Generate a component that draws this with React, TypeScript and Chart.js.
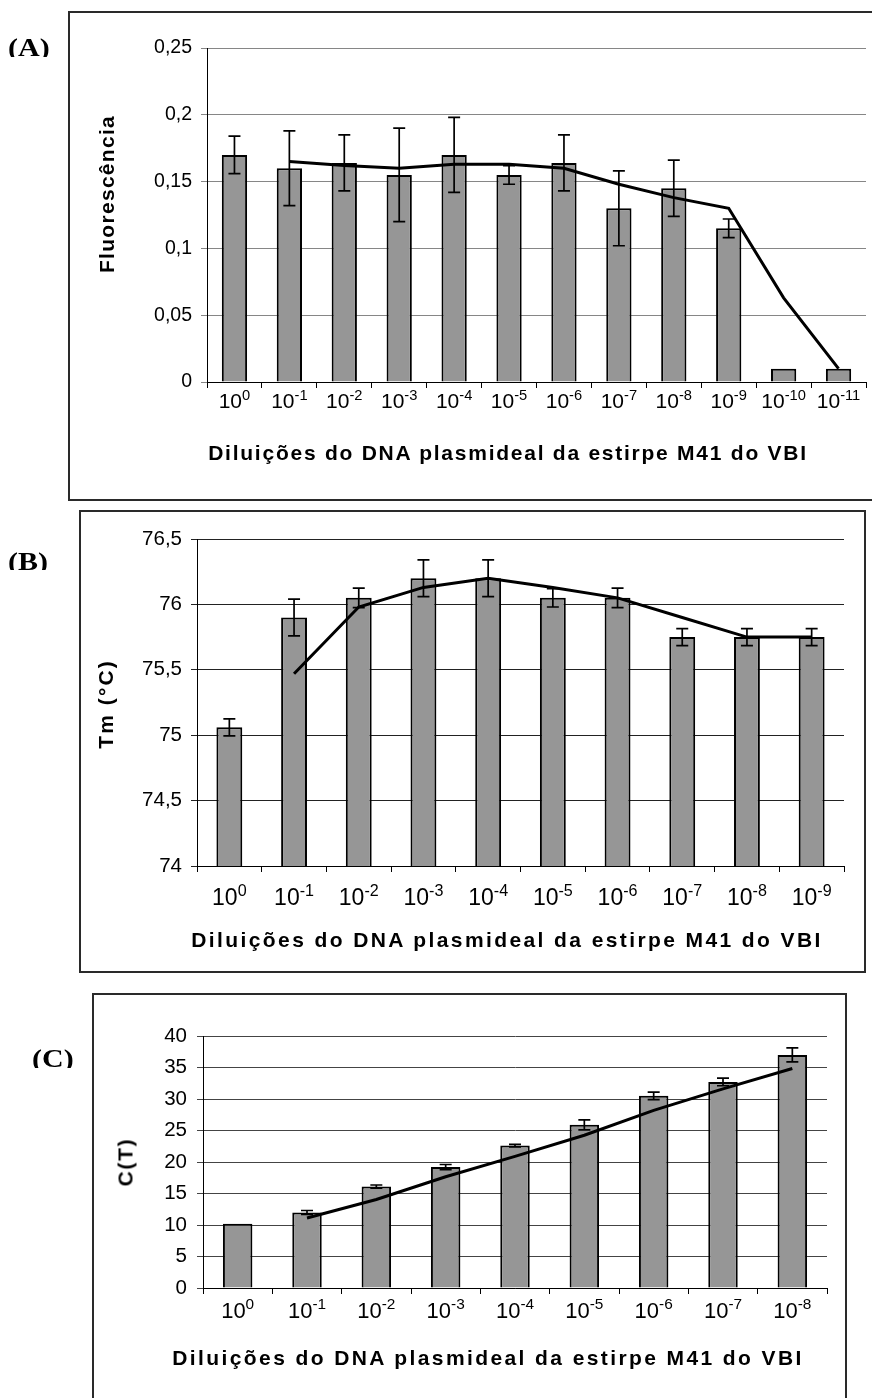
import React, { useEffect, useRef } from 'react';
import { Chart, registerables } from 'chart.js';
Chart.register(...registerables);

// ---------- Data ----------
const expA = ['0', '-1', '-2', '-3', '-4', '-5', '-6', '-7', '-8', '-9', '-10', '-11'];
const valuesA = [0.17, 0.16, 0.164, 0.155, 0.17, 0.155, 0.164, 0.13, 0.145, 0.115, 0.01, 0.01];
const errorsA = [0.014, 0.028, 0.021, 0.035, 0.028, 0.007, 0.021, 0.028, 0.021, 0.007, 0, 0];
const trendA = [null, 0.165, 0.162, 0.16, 0.163, 0.163, 0.16, 0.148, 0.138, 0.13, 0.063, 0.01];
const yTicksA = ['0', '0,05', '0,1', '0,15', '0,2', '0,25'];

const expB = ['0', '-1', '-2', '-3', '-4', '-5', '-6', '-7', '-8', '-9'];
const valuesB = [75.06, 75.9, 76.05, 76.2, 76.2, 76.05, 76.05, 75.75, 75.75, 75.75];
const errorsB = [0.065, 0.14, 0.075, 0.14, 0.14, 0.07, 0.075, 0.065, 0.065, 0.065];
const trendB = [null, 75.47, 75.98, 76.13, 76.2, 76.13, 76.05, 75.9, 75.75, 75.75];
const yTicksB = ['74', '74,5', '75', '75,5', '76', '76,5'];

const expC = ['0', '-1', '-2', '-3', '-4', '-5', '-6', '-7', '-8'];
const valuesC = [10.2, 12.0, 16.1, 19.2, 22.6, 25.9, 30.5, 32.7, 37.0];
const errorsC = [0, 0.3, 0.25, 0.4, 0.2, 0.8, 0.6, 0.6, 1.1];
const trendC = [null, 11.1, 14.05, 17.65, 20.9, 24.25, 28.2, 31.6, 34.85];
const yTicksC = ['0', '5', '10', '15', '20', '25', '30', '35', '40'];

const xTitle = 'Diluições do DNA plasmideal da estirpe M41 do VBI';
const FONT = '"Liberation Sans", Arial, sans-serif';

// ---------- Plugins ----------
const errorBarPlugin = {
  id: 'errorBars',
  afterDatasetDraw(chart: any, args: any, opts: any) {
    if (args.index !== 0) return;
    const errs: number[] = opts.errors || [];
    const meta = chart.getDatasetMeta(0);
    const ys = chart.scales.y;
    const ctx = chart.ctx;
    ctx.save();
    ctx.strokeStyle = '#000';
    ctx.lineWidth = opts.lineWidth || 1.5;
    meta.data.forEach((bar: any, i: number) => {
      const e = errs[i];
      if (!e) return;
      const v = chart.data.datasets[0].data[i];
      const x = bar.x;
      const y1 = ys.getPixelForValue(v + e);
      const y2 = ys.getPixelForValue(v - e);
      const hw = (opts.capWidth || 12) / 2;
      ctx.beginPath();
      ctx.moveTo(x, y1); ctx.lineTo(x, y2);
      ctx.moveTo(x - hw, y1); ctx.lineTo(x + hw, y1);
      ctx.moveTo(x - hw, y2); ctx.lineTo(x + hw, y2);
      ctx.stroke();
    });
    ctx.restore();
  },
};

const expLabelPlugin = {
  id: 'expLabels',
  afterDraw(chart: any, _args: any, opts: any) {
    const xs = chart.scales.x;
    const ctx = chart.ctx;
    const size = opts.size;
    const sup = size * 0.7;
    ctx.save();
    ctx.fillStyle = '#000';
    ctx.textBaseline = 'alphabetic';
    ctx.textAlign = 'left';
    (opts.exps as string[]).forEach((e, i) => {
      const cx = xs.getPixelForValue(i);
      ctx.font = `${size}px ${FONT}`;
      const wb = ctx.measureText(opts.base).width;
      ctx.font = `${sup}px ${FONT}`;
      const we = ctx.measureText(e).width;
      const left = cx - (wb + we) / 2;
      const by = xs.top + opts.offset;
      ctx.font = `${size}px ${FONT}`;
      ctx.fillText(opts.base, left, by);
      ctx.font = `${sup}px ${FONT}`;
      ctx.fillText(e, left + wb, by - size * 0.4);
    });
    ctx.restore();
  },
};

type Cfg = {
  exps: string[]; values: number[]; errors: number[]; trend: (number | null)[];
  yTicks: string[]; min: number; max: number; step: number;
  yWidth: number; xHeight: number; padTop: number; padRight: number;
  barPct: number; gridColor: string; tickSize: number; tickPad: number;
  labelSize: number; labelOffset: number;
};

function makeConfig(c: Cfg): any {
  return {
    type: 'bar',
    data: {
      labels: c.exps.map((e) => '10^' + e),
      datasets: [
        {
          type: 'bar', data: c.values, backgroundColor: '#969696', borderColor: '#000',
          borderWidth: 2, barPercentage: c.barPct, categoryPercentage: 1, order: 2,
        },
        {
          type: 'line', data: c.trend, borderColor: '#000', borderWidth: 3, pointRadius: 0,
          tension: 0, fill: false, order: 1,
        },
      ],
    },
    options: {
      responsive: false,
      animation: false,
      devicePixelRatio: 1,
      layout: { padding: { top: c.padTop, right: c.padRight, left: 0, bottom: 0 } },
      plugins: {
        legend: { display: false },
        tooltip: { enabled: false },
        errorBars: { errors: c.errors, capWidth: 12, lineWidth: 1.7 },
        expLabels: { exps: c.exps, base: '10', size: c.labelSize, offset: c.labelOffset },
      },
      scales: {
        x: {
          offset: true,
          grid: { offset: true, drawOnChartArea: false, drawTicks: true, tickLength: 6, color: '#000' },
          border: { color: '#000', width: 1 },
          ticks: { display: false },
          afterFit: (s: any) => { s.height = c.xHeight; },
        },
        y: {
          min: c.min, max: c.max,
          grid: { color: c.gridColor, tickLength: 6, drawTicks: true, lineWidth: 1 },
          border: { color: '#000', width: 1 },
          ticks: {
            stepSize: c.step, color: '#000', padding: c.tickPad,
            font: { family: FONT, size: c.tickSize },
            callback: (_v: any, i: number) => c.yTicks[i],
          },
          afterFit: (s: any) => { s.width = c.yWidth; },
        },
      },
    },
    plugins: [errorBarPlugin, expLabelPlugin],
  };
}

function ChartCanvas({ top, height, cfg }: { top: number; height: number; cfg: Cfg }) {
  const ref = useRef<HTMLCanvasElement>(null);
  useEffect(() => {
    if (!ref.current) return;
    const chart = new Chart(ref.current, makeConfig(cfg));
    return () => chart.destroy();
  }, []);
  return (
    <canvas
      ref={ref}
      width={872}
      height={height}
      style={{ position: 'absolute', left: 0, top, width: 872, height }}
    />
  );
}

const boxStyle = (left: number, top: number, width: number, height: number): React.CSSProperties => ({
  position: 'absolute', left, top, width, height, border: '2px solid #2a2a2a', boxSizing: 'border-box',
});

function HTitle({ cx, top, ls, text }: { cx: number; top: number; ls: number; text: string }) {
  return (
    <div style={{
      position: 'absolute', left: cx, top, transform: 'translateX(-50%)', whiteSpace: 'nowrap',
      font: `bold 21px ${FONT}`, lineHeight: '21px', letterSpacing: ls, color: '#000',
    }}>{text}</div>
  );
}

function VTitle({ cx, cy, ls, text }: { cx: number; cy: number; ls: number; text: string }) {
  return (
    <div style={{
      position: 'absolute', left: cx, top: cy, transform: 'translate(-50%,-50%) rotate(-90deg)',
      whiteSpace: 'nowrap', font: `bold 21px ${FONT}`, lineHeight: '21px', letterSpacing: ls, color: '#000',
    }}>{text}</div>
  );
}

function Panel({ left, top, clip, text }: { left: number; top: number; clip: number; text: string }) {
  return (
    <div style={{ position: 'absolute', left: 0, top, width: 90, height: clip - top, overflow: 'hidden' }}>
      <div style={{
        position: 'absolute', left, top: 0, whiteSpace: 'nowrap',
        font: 'bold 25px "Liberation Serif", "Times New Roman", serif', lineHeight: '25px',
        transform: 'scaleX(1.2)', transformOrigin: 'left top', color: '#000',
      }}>{text}</div>
    </div>
  );
}

const cfgA: Cfg = {
  exps: expA, values: valuesA, errors: errorsA, trend: trendA, yTicks: yTicksA,
  min: 0, max: 0.25, step: 0.05, yWidth: 207, xHeight: 118, padTop: 37, padRight: 6,
  barPct: 0.46, gridColor: '#868686', tickSize: 19.5, tickPad: 9, labelSize: 21, labelOffset: 26,
};
const cfgB: Cfg = {
  exps: expB, values: valuesB, errors: errorsB, trend: trendB, yTicks: yTicksB,
  min: 74, max: 76.5, step: 0.5, yWidth: 197, xHeight: 106, padTop: 29, padRight: 28,
  barPct: 0.4, gridColor: '#222', tickSize: 20.5, tickPad: 9, labelSize: 23, labelOffset: 39,
};
const cfgC: Cfg = {
  exps: expC, values: valuesC, errors: errorsC, trend: trendC, yTicks: yTicksC,
  min: 0, max: 40, step: 5, yWidth: 203, xHeight: 110, padTop: 43, padRight: 45,
  barPct: 0.425, gridColor: '#444', tickSize: 20.5, tickPad: 10, labelSize: 22, labelOffset: 30,
};

export default function App() {
  return (
    <div style={{
      position: 'absolute', left: 0, top: 0, width: 872, height: 1398, overflow: 'hidden',
      background: '#fff', fontFamily: FONT,
    }}>
      <div style={boxStyle(68, 11, 806, 490)} />
      <div style={boxStyle(79, 510, 787, 463)} />
      <div style={boxStyle(92, 993, 755, 520)} />

      <ChartCanvas top={11} height={489} cfg={cfgA} />
      <ChartCanvas top={510} height={462} cfg={cfgB} />
      <ChartCanvas top={993} height={405} cfg={cfgC} />

      <VTitle cx={105.5} cy={194} ls={1.3} text="Fluorescência" />
      <HTitle cx={508} top={441.5} ls={1.75} text={xTitle} />

      <VTitle cx={105} cy={704} ls={2.1} text="Tm (°C)" />
      <HTitle cx={507} top={929} ls={2.4} text={xTitle} />

      <VTitle cx={125} cy={1161.5} ls={1.7} text="C(T)" />
      <HTitle cx={488} top={1347} ls={2.4} text={xTitle} />

      <Panel left={8} top={34.6} clip={57} text="(A)" />
      <Panel left={8} top={548.6} clip={570} text="(B)" />
      <Panel left={32} top={1045.6} clip={1068} text="(C)" />
    </div>
  );
}
